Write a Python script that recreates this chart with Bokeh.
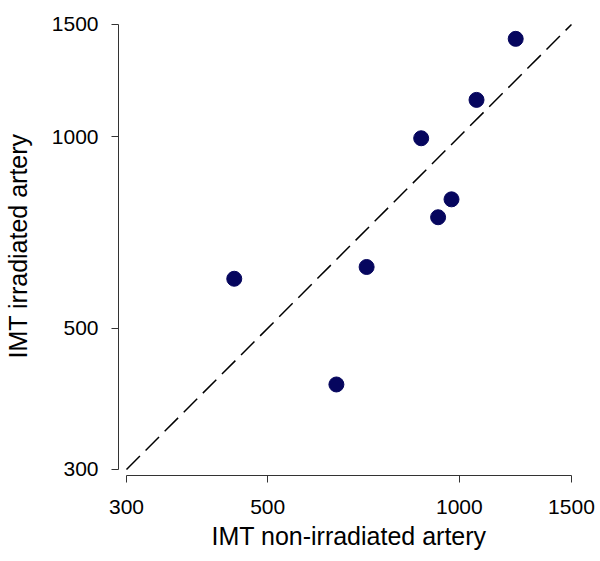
from bokeh.plotting import figure
from bokeh.models import Range1d, FixedTicker, NumeralTickFormatter, ColumnDataSource
from bokeh.embed import file_html
from bokeh.resources import INLINE

# Data (IMT values)
imt_non_irradiated = [1226, 1064, 871, 972, 926, 715, 443, 641]
imt_irradiated = [1424, 1142, 994, 797, 747, 624, 598, 408]
identity_line = [300, 1500]
tick_values = [300, 500, 1000, 1500]

p = figure(width=600, height=561, x_axis_type="log", y_axis_type="log",
           x_range=Range1d(291.46, 1544.2), y_range=Range1d(293.56, 1543.9),
           output_backend="svg", toolbar_location=None,
           min_border_left=117, min_border_right=21, min_border_top=16, min_border_bottom=86)

p.outline_line_color = None
p.xgrid.visible = False
p.ygrid.visible = False
p.background_fill_color = "white"
p.border_fill_color = "white"

p.line(identity_line, identity_line, line_color="black", line_width=1.5, line_dash="19 8")

src = ColumnDataSource(dict(x=imt_non_irradiated, y=imt_irradiated))
p.scatter("x", "y", source=src, size=15, fill_color="#06065e", line_color="#06065e")

for ax in (p.xaxis[0], p.yaxis[0]):
    ax.ticker = FixedTicker(ticks=tick_values)
    ax.formatter = NumeralTickFormatter(format="0")
    ax.bounds = (300, 1500)
    ax.axis_line_color = "#333333"
    ax.major_tick_line_color = "#333333"
    ax.minor_tick_line_color = None
    ax.major_tick_in = 0
    ax.major_tick_out = 7
    ax.major_label_text_font = "Liberation Sans"
    ax.major_label_text_font_size = "21px"
    ax.major_label_text_color = "black"
    ax.axis_label_text_font = "Liberation Sans"
    ax.axis_label_text_font_size = "25px"
    ax.axis_label_text_font_style = "normal"
    ax.axis_label_text_color = "black"

p.xaxis.axis_label = "IMT non-irradiated artery"
p.yaxis.axis_label = "IMT irradiated artery"
p.xaxis.major_label_standoff = 17
p.yaxis.major_label_standoff = 13
p.xaxis.axis_label_standoff = 5
p.yaxis.axis_label_standoff = 17

open("out.html", "w").write(file_html(p, INLINE))
